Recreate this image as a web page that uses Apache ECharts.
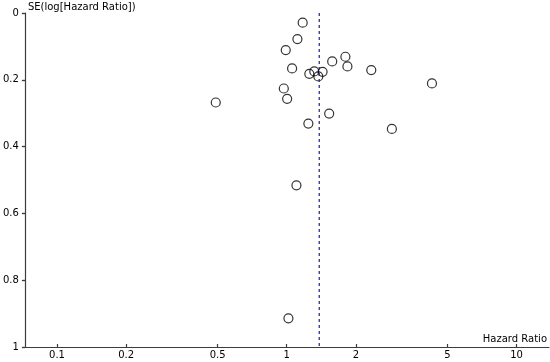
<!DOCTYPE html>
<html><head><meta charset="utf-8">
<script src="https://cdn.jsdelivr.net/npm/echarts@6/dist/echarts.min.js"></script>
<style>html,body{margin:0;padding:0;background:#fff}#c{width:550px;height:362px}</style>
</head><body><div id="c"></div>
<script>
// Study hazard ratios (x) and SE(log HR) (y)
const hazardRatios = [1.173, 1.113, 0.990, 1.800, 1.577, 1.837, 2.333, 1.055, 1.254, 1.318, 1.432, 1.372, 4.286, 0.971, 1.004, 1.530, 1.242, 2.868, 1.102, 1.017, 0.491];
const seLogHR      = [0.029, 0.078, 0.111, 0.131, 0.145, 0.160, 0.171, 0.166, 0.182, 0.175, 0.176, 0.190, 0.211, 0.226, 0.257, 0.301, 0.331, 0.347, 0.516, 0.914, 0.268];
const pooledHR = 1.385;
const xTicks = [0.1, 0.2, 0.5, 1, 2, 5, 10];
const yTicks = [0, 0.2, 0.4, 0.6, 0.8, 1];

const font = 'DejaVu Sans';
const axisColor = '#3c3c3c';
const fmt = v => String(parseFloat(Number(v).toPrecision(6)));

const chart = echarts.init(document.getElementById('c'), null, {renderer: 'canvas'});
chart.setOption({
  animation: false,
  backgroundColor: '#ffffff',
  grid: {left: 23, right: 0, top: 13, bottom: 15, containLabel: false},
  xAxis: [{
    type: 'log', logBase: 10, min: 0.0725, max: 13.85,
    position: 'bottom',
    splitLine: {show: false}, minorTick: {show: false},
    name: 'Hazard Ratio', nameLocation: 'end', nameGap: -2,
    nameTextStyle: {fontFamily: font, fontSize: 10, color: '#000', align: 'right', verticalAlign: 'bottom', padding: [0, 0, 3, 0]},
    axisLine: {show: true, onZero: false, lineStyle: {color: axisColor, width: 1.2}},
    axisTick: {show: true, inside: true, length: 3, lineStyle: {color: axisColor, width: 1.2}, customValues: xTicks},
    axisLabel: {show: true, margin: 3, fontFamily: font, fontSize: 10, color: '#000', customValues: xTicks, formatter: fmt}
  }],
  yAxis: [
    {
      type: 'value', inverse: true, min: 0, max: 1, interval: 0.2,
      position: 'left', splitLine: {show: false},
      name: 'SE(log[Hazard Ratio])', nameLocation: 'start', nameGap: 1,
      nameTextStyle: {fontFamily: font, fontSize: 10, color: '#000', align: 'left', verticalAlign: 'bottom', padding: [0, 0, 0, 3]},
      axisLine: {show: true, onZero: false, lineStyle: {color: axisColor, width: 1.2}},
      axisTick: {show: true, inside: false, length: 3, lineStyle: {color: axisColor, width: 1.2}},
      axisLabel: {show: true, margin: 6, fontFamily: font, fontSize: 10, color: '#000', formatter: fmt}
    },
    {
      type: 'value', inverse: true, min: 0, max: 1, interval: 0.2,
      position: 'right', offset: -527, splitLine: {show: false},
      axisLine: {show: false, onZero: false},
      axisTick: {show: true, inside: false, length: 3, lineStyle: {color: axisColor, width: 1.2}},
      axisLabel: {show: false}
    }
  ],
  series: [
    {
      type: 'line', xAxisIndex: 0, yAxisIndex: 0,
      data: [[pooledHR, yTicks[0]], [pooledHR, yTicks[yTicks.length - 1]]],
      symbol: 'none', silent: true,
      lineStyle: {color: '#2727d0', width: 1.3, type: [3, 3]}
    },
    {
      type: 'scatter', xAxisIndex: 0, yAxisIndex: 0,
      data: hazardRatios.map((h, i) => [h, seLogHR[i]]),
      symbol: 'circle', symbolSize: 9,
      itemStyle: {color: 'rgba(255,255,255,0)', borderColor: '#000', borderWidth: 1.2}
    }
  ]
});
</script></body></html>
